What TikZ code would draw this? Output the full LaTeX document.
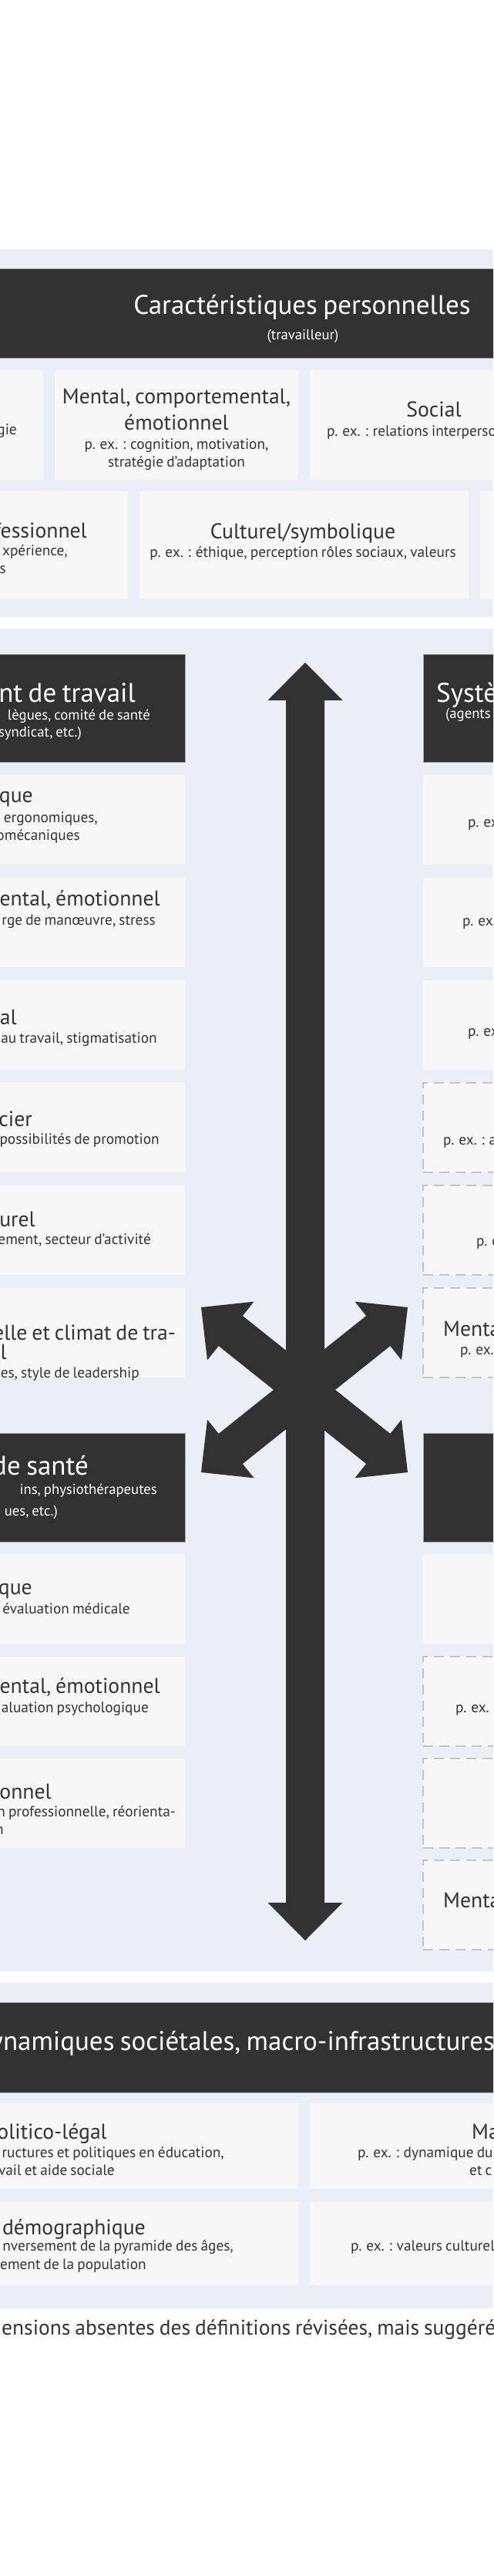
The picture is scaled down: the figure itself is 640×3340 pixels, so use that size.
\documentclass[tikz,border=0pt]{standalone}
\usepackage{fontspec}
\setmainfont{PT Sans}[WordSpace=0.8]
\definecolor{bandc}{HTML}{EAEEF6}
\definecolor{boxc}{HTML}{F7F7F7}
\definecolor{darkc}{HTML}{323232}
\definecolor{txtc}{HTML}{333333}
\definecolor{dashc}{HTML}{C4C4C4}
\newcommand\myH{\fontsize{35}{40}\selectfont}
\newcommand\myHs{\fontsize{18.7}{23}\selectfont}
\newcommand\myT{\fontsize{27.7}{32}\selectfont}
\newcommand\myS{\fontsize{19.3}{23}\selectfont}
\newcommand\myF{\fontsize{27.5}{33}\selectfont}
\tikzset{
  blk/.style={rectangle, inner sep=0pt, outer sep=0pt, anchor=north west, draw=none},
  bandbox/.style={blk, fill=bandc},
  hdr/.style={blk, fill=darkc, draw=gray!70, line width=0.6pt},
  cell/.style={blk, fill=boxc},
  dcell/.style={blk, fill=boxc, draw=dashc, line width=1.3pt, dash pattern=on 13pt off 8pt},
  te/.style={inner sep=0pt, anchor=base east, text=txtc},
  tw/.style={inner sep=0pt, anchor=base west, text=txtc},
  tc/.style={inner sep=0pt, anchor=base, text=txtc},
  arrowshape/.style={fill=darkc, draw=none},
}
\begin{document}
\begin{tikzpicture}[x=1pt,y=-1pt]
\useasboundingbox (0,0) rectangle (640,3340);
\fill[white] (0,0) rectangle (640,3340);
\clip (0,0) rectangle (640,3340);

% ---------- band 1 : personal characteristics ----------
\node[bandbox, minimum width=700pt, minimum height=477pt] (band1) at (-30,323) {};
\node[hdr, minimum width=700pt, minimum height=116pt] (h1) at (-30,348) {};
\node[tc, text=white, font=\myH] (h1t) at (392,407) {Caractéristiques personnelles};
\node[tc, text=white, font=\myHs] (h1s) at (393,440) {(travailleur)};

\node[cell, minimum width=316pt, minimum height=142pt] (p1) at (-260,480) {};
\node[cell, minimum width=316pt, minimum height=142pt] (p2) at (71,480) {};
\node[cell, minimum width=316pt, minimum height=142pt] (p3) at (402,480) {};
\node[cell, minimum width=427pt, minimum height=140pt] (p4) at (-261,637) {};
\node[cell, minimum width=427pt, minimum height=140pt] (p5) at (181,637) {};
\node[cell, minimum width=427pt, minimum height=140pt] (p6) at (623,637) {};

\node[te, font=\myS] (p1a) at (22,563) {gie};
\node[tc, font=\myT] (p2a) at (229,523) {Mental, comportemental,};
\node[tc, font=\myT] (p2b) at (229,557) {émotionnel};
\node[tc, font=\myS] (p2c) at (229,582) {p. ex. : cognition, motivation,};
\node[tc, font=\myS] (p2d) at (229,605) {stratégie d’adaptation};
\node[tc, font=\myT] (p3a) at (563,540) {Social};
\node[tw, font=\myS] (p3b) at (424,565) {p. ex. : relations interperso};
\node[te, font=\myT] (p4a) at (113,697) {fessionnel};
\node[te, font=\myS] (p4b) at (88,720) {xpérience,};
\node[te, font=\myS] (p4c) at (8,743) {s};
\node[tc, font=\myT] (p5a) at (393,698) {Culturel/symbolique};
\node[tc, font=\myS] (p5b) at (393,722) {p. ex. : éthique, perception rôles sociaux, valeurs};

% ---------- band 2 : systems ----------
\node[bandbox, minimum width=700pt, minimum height=1741pt] (band2) at (-30,815) {};
\node[hdr, minimum width=512pt, minimum height=140pt] (lh1) at (-272,848) {};
\node[hdr, minimum width=512pt, minimum height=140pt] (rh1) at (549,848) {};
\node[hdr, minimum width=512pt, minimum height=141pt] (lh2) at (-272,1858) {};
\node[hdr, minimum width=512pt, minimum height=141pt] (rh2) at (549,1858) {};

\foreach \y [count=\i] in {1005,1138,1271,1404,1537,1670,2015,2148,2280}
  \node[cell, minimum width=512pt, minimum height=116pt] (l\i) at (-272,\y) {};
\foreach \y [count=\i] in {1005,1138,1271}
  \node[cell, minimum width=512pt, minimum height=116pt] (r\i) at (549,\y) {};
\foreach \y [count=\i from 4] in {1404,1537,1670}
  \node[dcell, minimum width=512pt, minimum height=116pt] (r\i) at (549,\y) {};
\node[cell, minimum width=512pt, minimum height=116pt] (r7) at (549,2015) {};
\foreach \y [count=\i from 8] in {2148,2280,2412}
  \node[dcell, minimum width=512pt, minimum height=116pt] (r\i) at (549,\y) {};

\node[te, text=white, font=\myH] (lh1a) at (176,910) {nt de travail};
\node[te, text=white, font=\myHs] (lh1b) at (195,933) {lègues, comité de santé};
\node[te, text=white, font=\myHs] (lh1c) at (106,955) {syndicat, etc.)};
\node[tw, text=white, font=\myH] (rh1a) at (566,910) {Systè};
\node[tw, text=white, font=\myHs] (rh1b) at (578,931) {(agents};

\node[te, font=\myT] (l1a) at (43,1040) {que};
\node[te, font=\myS] (l1b) at (127,1066) {ergonomiques,};
\node[te, font=\myS] (l1c) at (104,1089) {omécaniques};
\node[te, font=\myT] (l2a) at (208,1174) {ental, émotionnel};
\node[te, font=\myS] (l2b) at (202,1199) {rge de manœuvre, stress};
\node[te, font=\myT] (l3a) at (22,1328) {ial};
\node[te, font=\myS] (l3b) at (204,1352) {au travail, stigmatisation};
\node[te, font=\myT] (l4a) at (42,1460) {cier};
\node[te, font=\myS] (l4b) at (207,1483) {possibilités de promotion};
\node[te, font=\myT] (l5a) at (46,1590) {turel};
\node[te, font=\myS] (l5b) at (196,1613) {ement, secteur d’activité};
\node[te, font=\myT] (l6a) at (228,1737) {elle et climat de tra-};
\node[te, font=\myT] (l6b) at (9,1762) {il};
\node[te, font=\myS] (l6c) at (181,1786) {es, style de leadership};
\node[te, text=white, font=\myH] (lh2a) at (115,1912) {de santé};
\node[te, text=white, font=\myHs] (lh2b) at (204,1937) {ins, physiothérapeutes};
\node[te, text=white, font=\myHs] (lh2c) at (75,1965) {ues, etc.)};
\node[te, font=\myT] (l7a) at (42,2067) {que};
\node[te, font=\myS] (l7b) at (169,2092) {évaluation médicale};
\node[te, font=\myT] (l8a) at (208,2195) {ental, émotionnel};
\node[te, font=\myS] (l8b) at (193,2220) {aluation psychologique};
\node[te, font=\myT] (l9a) at (67,2332) {onnel};
\node[te, font=\myS] (l9b) at (228,2355) {n professionnelle, réorienta-};
\node[te, font=\myS] (l9c) at (5,2378) {n};

\node[tw, font=\myS] (r1a) at (607,1072) {p. ex};
\node[tw, font=\myS] (r2a) at (600,1200) {p. ex.};
\node[tw, font=\myS] (r3a) at (607,1343) {p. ex};
\node[tw, font=\myS] (r4a) at (575,1484) {p. ex. : a};
\node[tw, font=\myS] (r5a) at (618,1615) {p. e};
\node[tw, font=\myT] (r6a) at (575,1732) {Menta};
\node[tw, font=\myS] (r6b) at (597,1756) {p. ex.};
\node[tw, font=\myS] (r8a) at (591,2220) {p. ex. :};
\node[tw, font=\myT] (r10a) at (575,2473) {Menta};

% ---------- arrows ----------
\def\hk{49}\def\hh{48.5}\def\hw{25}
\begin{scope}[shift={(396,1687.5)}, rotate=90]
  \def\L{828.5}
  \fill[arrowshape] (-\L,0) -- (-\L+\hk,\hh) -- (-\L+\hk,\hw) -- (\L-\hk,\hw) -- (\L-\hk,\hh) -- (\L,0)
     -- (\L-\hk,-\hh) -- (\L-\hk,-\hw) -- (-\L+\hk,-\hw) -- (-\L+\hk,-\hh) -- cycle;
\end{scope}
\foreach \ang in {38.6,-38.6}{
\begin{scope}[shift={(395,1802)}, rotate=\ang]
  \def\L{171.5}
  \fill[arrowshape] (-\L,0) -- (-\L+\hk,\hh) -- (-\L+\hk,\hw) -- (\L-\hk,\hw) -- (\L-\hk,\hh) -- (\L,0)
     -- (\L-\hk,-\hh) -- (\L-\hk,-\hw) -- (-\L+\hk,-\hw) -- (-\L+\hk,-\hh) -- cycle;
\end{scope}}

% ---------- band 3 : societal ----------
\node[bandbox, minimum width=700pt, minimum height=422pt] (band3) at (-30,2571) {};
\node[hdr, minimum width=700pt, minimum height=117pt] (h3) at (-30,2596) {};
\node[te, text=white, font=\myH] (h3t) at (642,2658) {ynamiques sociétales, macro-infrastructures};
\node[cell, minimum width=647pt, minimum height=111pt] (s1) at (-260,2727) {};
\node[cell, minimum width=647pt, minimum height=111pt] (s2) at (402,2727) {};
\node[cell, minimum width=647pt, minimum height=108pt] (s3) at (-260,2855) {};
\node[cell, minimum width=647pt, minimum height=108pt] (s4) at (402,2855) {};

\node[te, font=\myT] (s1a) at (139,2773) {Politico-légal};
\node[te, font=\myS] (s1b) at (291,2797) {ructures et politiques en éducation,};
\node[te, font=\myS] (s1c) at (149,2820) {vail et aide sociale};
\node[tw, font=\myT] (s2a) at (612,2773) {Ma};
\node[tw, font=\myS] (s2b) at (464,2797) {p. ex. : dynamique du};
\node[tw, font=\myS] (s2c) at (609,2820) {et c};
\node[te, font=\myT] (s3a) at (189,2897) {démographique};
\node[te, font=\myS] (s3b) at (303,2918) {nversement de la pyramide des âges,};
\node[te, font=\myS] (s3c) at (190,2942) {ement de la population};
\node[tw, font=\myS] (s4a) at (455,2918) {p. ex. : valeurs culturell};

\node[tw, font=\myF] (foot) at (2,3027) {ensions absentes des définitions révisées, mais suggéré};
\end{tikzpicture}
\end{document}
